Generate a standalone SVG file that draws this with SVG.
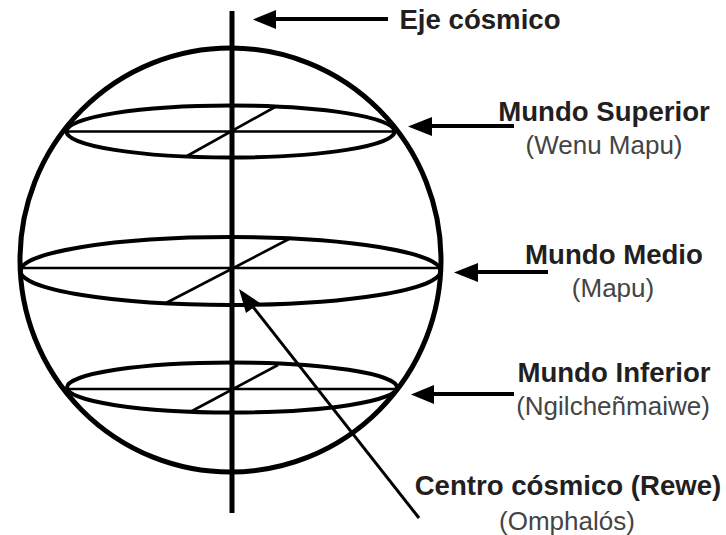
<svg xmlns="http://www.w3.org/2000/svg" width="726" height="535" viewBox="0 0 726 535">
<style>
.l{fill:none;stroke:#000;stroke-linecap:butt}
.o{stroke-width:5}
.e{stroke-width:4}
.t{stroke-width:2.6}
.a{stroke-width:4}
.c{stroke-width:3}
.h{fill:#000;stroke:none}
text{font-family:"Liberation Sans",Arial,sans-serif;fill:#231f20;text-anchor:middle}
.b{font-weight:700;font-size:27.6px}
.r{font-size:26px;fill:#444}
</style>
<rect width="726" height="535" fill="#fff"/>
<g id="sphere"><ellipse class="l o" cx="230.500" cy="260" rx="210.500" ry="212"/></g>
<g id="mundo-superior-disc">
<ellipse class="l e" cx="230.500" cy="131.500" rx="164" ry="26"/>
<path class="l t" d="M67 131.500H394M275 107L187 156"/>
</g>
<g id="mundo-medio-disc">
<ellipse class="l e" cx="230.500" cy="271" rx="210" ry="34"/>
<path class="l t" d="M21 268H440M289 239L166 303"/>
</g>
<g id="mundo-inferior-disc">
<ellipse class="l e" cx="232" cy="387.500" rx="165" ry="25"/>
<path class="l t" d="M67 389H397M278 365L192 411"/>
</g>
<g id="eje"><path class="l o" d="M232 11V513"/></g>
<g id="connectors">
<path class="l a" d="M274 19H388"/><path class="h" d="M253 19.500L276 10V29Z"/>
<path class="l a" d="M430 126H514"/><path class="h" d="M408 126.500L432 117V136Z"/>
<path class="l a" d="M476 272H548"/><path class="h" d="M454 272.500L478 263V282Z"/>
<path class="l a" d="M431 394H514"/><path class="h" d="M411 394.500L434 385V404Z"/>
<path class="l c" d="M250 303L419 518"/><path class="h" d="M239 289L260 303L246 313Z"/>
</g>
<g id="label-eje"><text class="b" x="480" y="29">Eje cósmico</text></g>
<g id="label-superior"><text class="b" x="604" y="121">Mundo Superior</text><text class="r" x="604" y="154">(Wenu Mapu)</text></g>
<g id="label-medio"><text class="b" x="614" y="264">Mundo Medio</text><text class="r" x="613" y="297">(Mapu)</text></g>
<g id="label-inferior"><text class="b" x="614" y="382">Mundo Inferior</text><text class="r" x="613" y="415">(Ngilcheñmaiwe)</text></g>
<g id="label-centro"><text class="b" x="568" y="495">Centro cósmico (Rewe)</text><text class="r" x="567" y="530">(Omphalós)</text></g>
</svg>
